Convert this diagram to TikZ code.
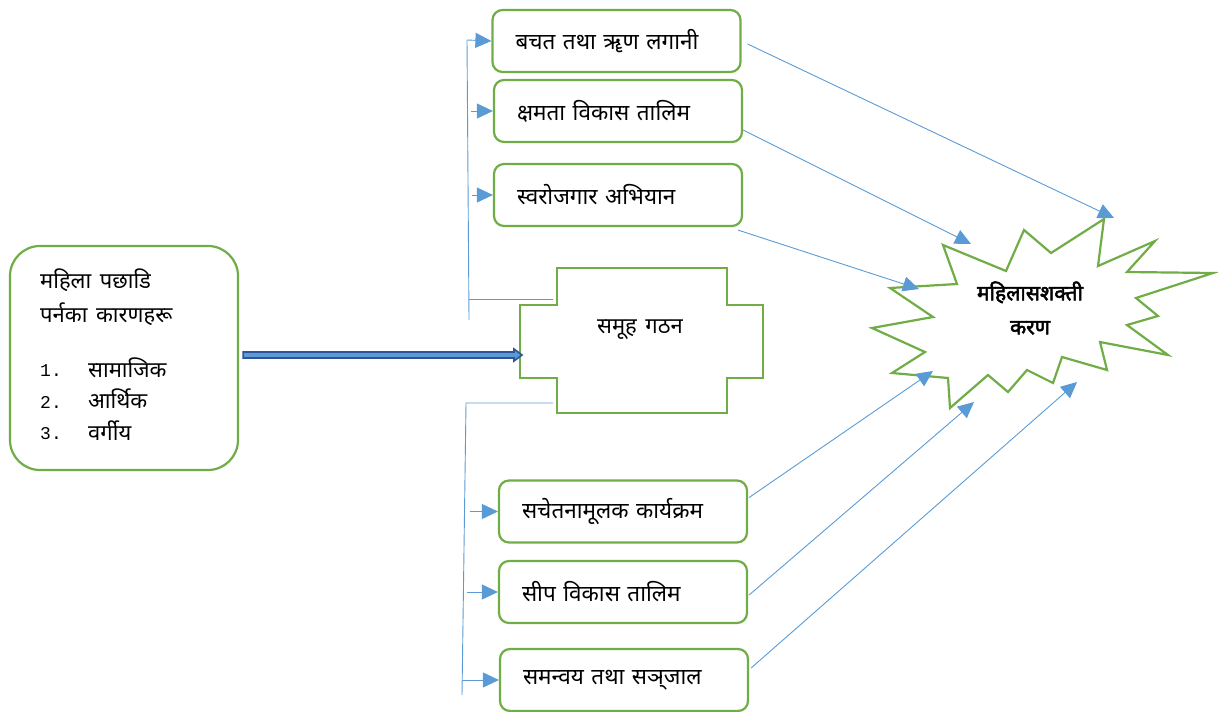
\documentclass[tikz,border=0pt]{standalone}
\usepackage{fontspec}
\newfontfamily\dev[Script=Devanagari, WordSpace=1.5]{Noto Sans}
\newfontfamily\devb[Script=Devanagari, FakeBold=2.5]{Noto Sans}
\newfontfamily\monof{Liberation Mono}
\usetikzlibrary{arrows.meta,calc}
\definecolor{grn}{HTML}{70AD47}
\definecolor{lblue}{HTML}{5B9BD5}
\definecolor{dblue}{HTML}{2F5597}
\begin{document}
\begin{tikzpicture}[x=1pt,y=-1pt,
  box/.style={draw=grn, line width=2.2pt, rounded corners=10pt, text width=202pt, inner xsep=23pt, inner ysep=0pt, minimum height=62pt, align=left, font=\dev\fontsize{22.5}{26}\selectfont},
  lbl/.style={font=\dev\fontsize{22}{26}\selectfont, inner sep=0pt, anchor=west},
  num/.style={font=\monof\fontsize{18}{20}\selectfont, inner sep=0pt, anchor=west},
  thin/.style={draw=lblue, line width=0.9pt},
  tarrow/.style={thin, -{Triangle[length=16pt,width=15pt]}},
  greenline/.style={draw=grn, line width=2.2pt, line join=miter}]
\useasboundingbox (0,0) rectangle (1218,712);

% left box
\node[draw=grn, line width=2.2pt, rounded corners=30pt, minimum width=228pt, minimum height=224pt, inner sep=0pt] (left) at (124,358) {};
\node[lbl] (l1) at (40,280) {महिला पछाडि};
\node[lbl] (l2) at (40,314) {पर्नका कारणहरू};
\node[num] (n1) at (40,371) {1.};
\node[num] (n2) at (40,402) {2.};
\node[num] (n3) at (40,434) {3.};
\node[lbl] (i1) at (88,368) {सामाजिक};
\node[lbl] (i2) at (88,399) {आर्थिक};
\node[lbl] (i3) at (88,431) {वर्गीय};

% top boxes
\node[box] (b1) at (616.5,41) {बचत तथा ॠण लगानी};
\node[box] (b2) at (618,111) {क्षमता विकास तालिम};
\node[box] (b3) at (618,195) {स्वरोजगार अभियान};
% bottom boxes
\node[box] (b4) at (623,511.5) {सचेतनामूलक कार्यक्रम};
\node[box] (b5) at (623,592) {सीप विकास तालिम};
\node[box] (b6) at (624,680) {समन्वय तथा स‌ञ्‌जाल};

% group shape
\draw[greenline] (557,268) -- (727,268) -- (727,305) -- (763,305) -- (763,378) -- (727,378) -- (727,413) -- (557,413) -- (557,378) -- (520,378) -- (520,305) -- (557,305) -- cycle;
\node[lbl, anchor=center] (grp) at (640,330) {समूह गठन};
\coordinate (grpW) at (522,355);

% thick arrow
\coordinate (aL) at ($(left.east |- grpW)+(4,0)$);
\fill[lblue, draw=dblue, line width=1.6pt, line join=miter]
  ($(aL)+(0,-3)$) -- ($(grpW)+(-8,-3)$) -- ($(grpW)+(-8,-6)$) -- (grpW)
  -- ($(grpW)+(-8,6)$) -- ($(grpW)+(-8,3)$) -- ($(aL)+(0,3)$) -- cycle;

% left connectors (top)
\coordinate (tv1) at (467,40);
\coordinate (tv2) at (469,320);
\coordinate (th) at (469,299);
\coordinate (thE) at (553,299);
\draw[thin] (tv2) -- (tv1);
\draw[tarrow] (tv1) -- (b1.west);
\draw[tarrow] (471,111) -- (b2.west);
\draw[tarrow] (472,195) -- (b3.west);
\draw[thin] (th) -- (thE);
% left connectors (bottom)
\coordinate (bv1) at (466,403);
\coordinate (bv2) at (462,695);
\coordinate (bhE) at (553,403);
\draw[thin] (bhE) -- (bv1) -- (bv2);
\draw[tarrow] (470,511.5) -- (b4.west);
\draw[tarrow] (467,592) -- (b5.west);
\draw[tarrow] (462,680) -- (b6.west);

% starburst
\draw[greenline, fill=white] (943,245) -- (1006,271) -- (1024,230) -- (1051,253) -- (1104,219) -- (1098,266) -- (1155,241) -- (1127,272) -- (1213,273) -- (1136,298) -- (1158,316) -- (1127,325) -- (1168,355) -- (1100,342) -- (1107,370) -- (1062,357) -- (1053,383) -- (1027,370) -- (1008,392) -- (988,375) -- (950,408) -- (948,378) -- (892,373) -- (925,352) -- (872,328) -- (933,317) -- (890,288) -- (957,284) -- cycle;
\node[font=\devb\fontsize{21}{34}\selectfont, align=center, inner sep=0pt] (star) at (1030,308) {महिलासशक्ती\\करण};

\coordinate (s1) at (1114,218);
\coordinate (s2) at (971,244);
\coordinate (s3) at (919,289);
\coordinate (s4) at (933,371);
\coordinate (s5) at (974,402);
\coordinate (s6) at (1077,382);
\draw[tarrow] ($(b1.east)+(6,3)$) -- (s1);
\draw[tarrow] ($(b2.east)+(0,19)$) -- (s2);
\draw[tarrow] ($(b3.south east)+(-5,3)$) -- (s3);
\draw[tarrow] ($(b4.east)+(1,-14)$) -- (s4);
\draw[tarrow] ($(b5.east)+(1,3)$) -- (s5);
\draw[tarrow] ($(b6.east)+(2,-12)$) -- (s6);
\end{tikzpicture}
\end{document}
